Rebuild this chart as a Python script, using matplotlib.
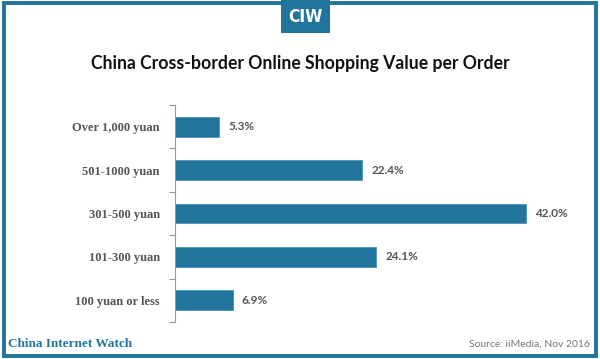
import matplotlib.pyplot as plt
from matplotlib.patches import Rectangle

### Data
categories = ['Over 1,000 yuan', '501-1000 yuan', '301-500 yuan', '101-300 yuan', '100 yuan or less']
values = [5.3, 22.4, 42.0, 24.1, 6.9]

blue = '#21749c'

fig = plt.figure(figsize=(6, 3.59), dpi=100)

### Frame and badge
fig.patches.append(Rectangle((0.006, 0.008), 0.988, 0.984, transform=fig.transFigure,
                             fill=False, edgecolor=blue, linewidth=2.8))
fig.patches.append(Rectangle((281 / 600, 1 - 33 / 359), 49 / 600, 33 / 359, transform=fig.transFigure,
                             facecolor=blue, edgecolor='none', zorder=5))
fig.text(305.5 / 600, 1 - 17 / 359, 'CIW', color='white', fontsize=12.5, fontweight='bold',
         ha='center', va='center', fontstretch='condensed', zorder=6)

fig.text(0.5, 1 - 63 / 359, 'China Cross-border Online Shopping Value per Order',
         ha='center', va='center', fontsize=12.7, fontweight='bold', family='Lato', color='#111111')

### Chart
ax = fig.add_axes([175 / 600, 1 - 322 / 359, 385 / 600, 217 / 359])
y = list(range(len(categories)))
ax.barh(y, values, height=0.46, color=blue, edgecolor='#4d93b8', linewidth=0.6)
for yi, v in zip(y, values):
    ax.text(v + 1.1, yi, '%.1f%%' % v, va='center', ha='left', fontsize=8.5,
            color='#555555', fontweight='bold', family='Lato')

ax.set_xlim(0, 385 / 8.357)
ax.set_ylim(len(categories) - 0.5, -0.5)
ax.set_yticks([i - 0.5 for i in range(len(categories) + 1)])
ax.set_yticklabels([])
ax.set_yticks(y, minor=True)
ax.set_yticklabels(categories, minor=True, family='Liberation Serif', fontweight='bold',
                   fontsize=9, color='#555555')
ax.tick_params(axis='y', which='major', length=4, color='#999999', width=0.8)
ax.tick_params(axis='y', which='minor', length=0, pad=11)
ax.set_xticks([])
for s in ['top', 'right', 'bottom']:
    ax.spines[s].set_visible(False)
ax.spines['left'].set_color('#999999')

### Footer
fig.text(8 / 600, 1 - 344 / 359, 'China Internet Watch', color=blue, fontsize=9.5,
         fontweight='bold', family='Liberation Serif', va='center')
fig.text(590 / 600, 1 - 344 / 359, 'Source: iiMedia, Nov 2016', color='#777777', fontsize=7.5,
         family='Lato', va='center', ha='right')

fig.savefig('out.png', dpi=100)
